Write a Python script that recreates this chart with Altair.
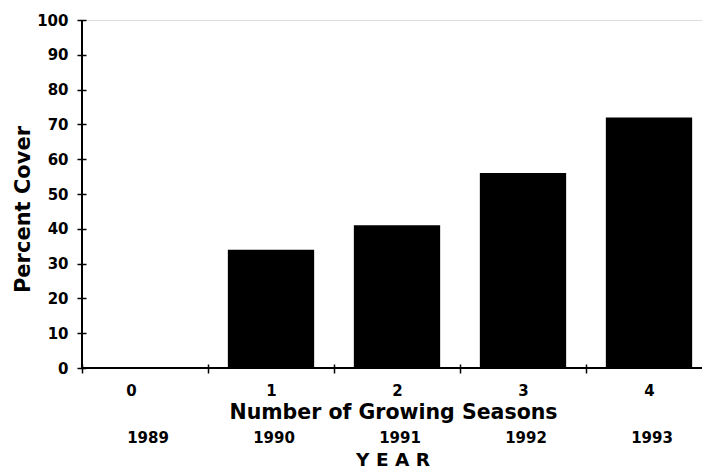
import altair as alt
import pandas as pd

seasons = ["0", "1", "2", "3", "4"]
years = ["1989", "1990", "1991", "1992", "1993"]
cover = [0, 34, 41, 56, 72]

df = pd.DataFrame({"season": seasons, "year": years, "cover": cover})

FONT = "DejaVu Sans"
W, H = 620, 348
XR = 630  # band range runs a little past the right edge, as in the reference

xscale = alt.Scale(domain=seasons, paddingInner=0, paddingOuter=0, range=[0, XR])
yscale = alt.Scale(domain=[0, 100], nice=False)

xaxis = alt.Axis(
    title="Number of Growing Seasons",
    labelAngle=0,
    tickBand="extent",
    domain=False,
    grid=False,
    offset=-4,
    tickSize=9,
    tickWidth=1.5,
    tickColor="black",
    labelPadding=10,
    labelFont=FONT,
    labelFontWeight="bold",
    labelFontSize=15,
    labelColor="black",
    labelOffset={"condition": {"test": "datum.value === '0'", "value": -14}, "value": 0},
    titleFont=FONT,
    titleFontWeight="bold",
    titleFontSize=20.5,
    titleColor="black",
    titleBaseline="alphabetic",
    titleY=54,
    titleX=311,
)

yaxis = alt.Axis(
    title="Percent Cover",
    values=list(range(0, 101, 10)),
    domain=False,
    grid=False,
    offset=-4,
    tickSize=9,
    tickWidth=1.5,
    tickColor="black",
    labelPadding=9,
    labelFont=FONT,
    labelFontWeight="bold",
    labelFontSize=15,
    labelColor="black",
    titleFont=FONT,
    titleFontWeight="bold",
    titleFontSize=21,
    titleColor="black",
    titleAngle=-90,
    titleBaseline="alphabetic",
    titleAlign="center",
    titleX=-57,
    titleY=189,
)

bars = alt.Chart(df).mark_bar(color="black", width=alt.RelativeBandSize(0.685)).encode(
    x=alt.X("season:N", scale=xscale, axis=xaxis, sort=seasons),
    y=alt.Y("cover:Q", scale=yscale, axis=yaxis),
)

year_text = alt.Chart(df).mark_text(
    font=FONT, fontWeight="bold", fontSize=15, color="black", baseline="alphabetic", dx=3
).encode(
    x=alt.X("season:N", title="Number of Growing Seasons", sort=seasons),
    y=alt.value(423),
    text="year:N",
)

x_line = alt.Chart(df).mark_rule(color="black", strokeWidth=2).encode(
    x=alt.value(0), x2=alt.value(W), y=alt.value(H)
)
y_line = alt.Chart(df).mark_rule(color="black", strokeWidth=2).encode(
    x=alt.value(0), y=alt.value(0), y2=alt.value(H)
)

year_title = alt.Chart(pd.DataFrame({"t": ["Y E A R"]})).mark_text(
    font=FONT, fontWeight="bold", fontSize=18.5, color="black", baseline="alphabetic", align="center"
).encode(x=alt.value(311), y=alt.value(446), text="t:N")

chart = alt.layer(bars, year_text, x_line, y_line, year_title).properties(
    width=W,
    height=H,
    autosize=alt.AutoSizeParams(type="none"),
    padding={"left": 74, "top": 12, "right": 0, "bottom": 102},
).configure_view(stroke=None).configure(background="white")

chart.save("out.html", embed_options={"renderer": "svg", "actions": False})
